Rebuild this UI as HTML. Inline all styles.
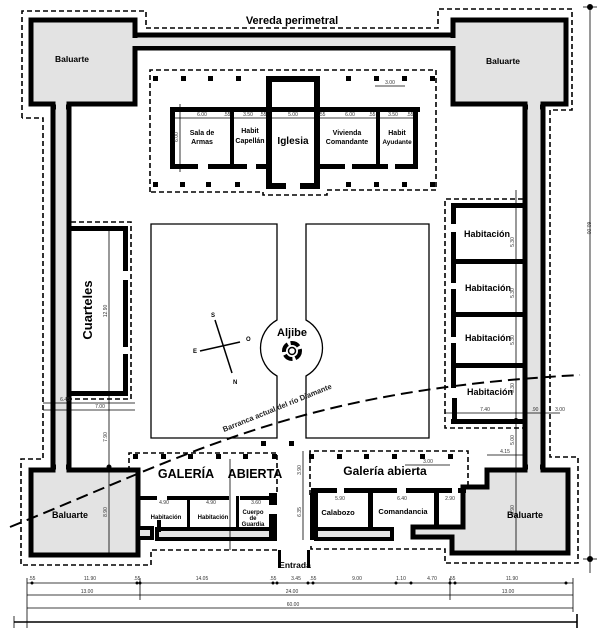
<!DOCTYPE html>
<html><head><meta charset="utf-8"><style>
html,body{margin:0;padding:0;background:#fff;}
svg{display:block;font-family:"Liberation Sans",sans-serif;}
.b{font-weight:bold;}
.s{font-size:5px;fill:#333;}
</style></head><body>
<svg width="600" height="639" viewBox="0 0 600 639" xmlns="http://www.w3.org/2000/svg">
<g fill="none" stroke="#000" stroke-width="1.6" stroke-dasharray="5,3">
<path d="M22,118 V11 H146 V28 H438 V9 H572 V110 H550 V457 H578 V563 H445 V549 H311 V544"/>
<path d="M277,550 H151 V565 H21 V459 H43 V118 H22"/>
<path d="M150,192 V70 H436 V190 H327 V195 H263 V192 H150"/>
<path d="M71,222 H131 V399 H71"/>
<path d="M523,199 H445 V428 H523"/>
<path d="M129,495 V453 H277 V495"/>
<path d="M310,495 V451 H468 V492"/>
</g>

<g fill="#e3e3e3" stroke="#000" stroke-width="5">
<rect x="130" y="35" width="330" height="13"/>
<rect x="53" y="100" width="16" height="375"/>
<rect x="525" y="100" width="18" height="375"/>
</g>
<g fill="#e3e3e3" stroke="#000" stroke-width="5" stroke-linejoin="miter">
<path d="M31,20 H135 V104 H69 V107 H53 V104 H31 Z" />
<path d="M453,20 H566 V104 H543 V107 H525 V104 H453 Z"/>
<path d="M31,470 H53 V467 H69 V470 H138 V555 H31 Z"/>
<path d="M463,527 V487 H487 V470 H525 V467 H543 V470 H568 V553 H452 V537 H413 V527 Z"/>
</g>
<g fill="#e3e3e3">
<rect x="56" y="102" width="10" height="370"/>
<rect x="528" y="102" width="12" height="370"/>
<rect x="132" y="38" width="324" height="8"/>
</g>
<g fill="#e3e3e3" stroke="#000" stroke-width="4">
<rect x="157" y="529" width="117" height="10"/>
<rect x="316" y="529" width="76" height="10"/>
<rect x="138" y="528" width="14" height="10"/>
</g>
<rect x="269" y="514" width="8" height="27" fill="#000"/>
<rect x="269" y="493" width="8" height="12" fill="#000"/>
<rect x="278" y="550" width="3" height="18" fill="#000"/>
<rect x="307" y="550" width="3" height="18" fill="#000"/>

<g fill="#000">
<rect x="170" y="107" width="250" height="5"/>
<rect x="170" y="107" width="5" height="61"/>
<rect x="230" y="107" width="4" height="61"/>
<rect x="376" y="107" width="4" height="61"/>
<rect x="413" y="107" width="5" height="61"/>
<rect x="170" y="164" width="28" height="5"/>
<rect x="208" y="164" width="39" height="5"/>
<rect x="256" y="164" width="14" height="5"/>
<rect x="316" y="164" width="29" height="5"/>
<rect x="352" y="164" width="36" height="5"/>
<rect x="395" y="164" width="23" height="5"/>
<rect x="266" y="76" width="54" height="6"/>
<rect x="266" y="76" width="6" height="112"/>
<rect x="314" y="76" width="6" height="112"/>
<rect x="266" y="183" width="20" height="6"/>
<rect x="300" y="183" width="20" height="6"/>
<g>
<rect x="153" y="76" width="5" height="5"/><rect x="181" y="76" width="5" height="5"/><rect x="208" y="76" width="5" height="5"/><rect x="236" y="76" width="5" height="5"/>
<rect x="346" y="76" width="5" height="5"/><rect x="374" y="76" width="5" height="5"/><rect x="402" y="76" width="5" height="5"/><rect x="430" y="76" width="5" height="5"/>
<rect x="153" y="182" width="5" height="5"/><rect x="180" y="182" width="5" height="5"/><rect x="206" y="182" width="5" height="5"/><rect x="235" y="182" width="5" height="5"/>
<rect x="346" y="182" width="5" height="5"/><rect x="374" y="182" width="5" height="5"/><rect x="402" y="182" width="5" height="5"/><rect x="430" y="182" width="5" height="5"/>
</g>
<rect x="70" y="226" width="58" height="5"/>
<rect x="123" y="226" width="5" height="45"/>
<rect x="123" y="280" width="5" height="67"/>
<rect x="123" y="354" width="5" height="41"/>
<rect x="70" y="391" width="58" height="5"/>
<rect x="451" y="203" width="73" height="5"/>
<rect x="451" y="259" width="73" height="5"/>
<rect x="451" y="312" width="73" height="5"/>
<rect x="451" y="363" width="73" height="5"/>
<rect x="451" y="419" width="73" height="5"/>
<rect x="451" y="203" width="5" height="21"/>
<rect x="451" y="232" width="5" height="51"/>
<rect x="451" y="289" width="5" height="48"/>
<rect x="451" y="343" width="5" height="45"/>
<rect x="452" y="398" width="5" height="25"/>
<rect x="140" y="496" width="17" height="4"/>
<rect x="167" y="496" width="62" height="4"/>
<rect x="240" y="496" width="30" height="4"/>
<rect x="187" y="496" width="3" height="33"/>
<rect x="236" y="496" width="3" height="33"/>
<rect x="157" y="520" width="4" height="12"/>
<rect x="311" y="488" width="26" height="5"/>
<rect x="344" y="488" width="53" height="5"/>
<rect x="406" y="488" width="46" height="5"/>
<rect x="458" y="488" width="8" height="5"/>
<rect x="310" y="493" width="8" height="47"/>
<rect x="368" y="488" width="5" height="40"/>
<rect x="434" y="488" width="5" height="39"/>
<rect x="133" y="454" width="5" height="5"/><rect x="161" y="454" width="5" height="5"/><rect x="188" y="454" width="5" height="5"/><rect x="216" y="454" width="5" height="5"/><rect x="243" y="454" width="5" height="5"/><rect x="272" y="454" width="5" height="5"/>
<rect x="309" y="454" width="5" height="5"/><rect x="337" y="454" width="5" height="5"/><rect x="364" y="454" width="5" height="5"/><rect x="392" y="454" width="5" height="5"/><rect x="420" y="454" width="5" height="5"/><rect x="448" y="454" width="5" height="5"/>
<rect x="261" y="441" width="5" height="5"/><rect x="289" y="441" width="5" height="5"/>
</g>

<g fill="none" stroke="#000" stroke-width="1.3">
<path d="M151,224 H277 V320 A32,32 0 0 0 277,376 V438 H151 Z"/>
<path d="M306,224 H429 V438 H306 V376 A32,32 0 0 0 306,320 Z"/>
</g>
<circle cx="292" cy="351" r="8" fill="none" stroke="#000" stroke-width="4" stroke-dasharray="9,3"/>
<circle cx="292" cy="351" r="3.5" fill="none" stroke="#000" stroke-width="1.5"/>
<text x="292" y="336" font-size="11" class="b" text-anchor="middle">Aljibe</text>
<g stroke="#000" stroke-width="1.5"><line x1="215" y1="320" x2="232" y2="373"/><line x1="200" y1="351" x2="240" y2="342"/></g>
<g font-size="6" class="b"><text x="211" y="317">S</text><text x="233" y="384">N</text><text x="193" y="353">E</text><text x="246" y="341">O</text></g>

<path d="M10,527 C200,450 300,390 580,375" fill="none" stroke="#000" stroke-width="2" stroke-dasharray="12,6"/>
<text transform="translate(224,432) rotate(-22)" font-size="7.5" class="b" fill="#222">Barranca actual del río Diamante</text>

<g stroke="#000" stroke-width="0.8" fill="none">
<line x1="172" y1="118" x2="415" y2="118"/>
<line x1="180" y1="104" x2="180" y2="172"/>
<line x1="375" y1="86" x2="405" y2="86"/>
<line x1="109" y1="226" x2="109" y2="396"/>
<line x1="109" y1="396" x2="109" y2="557"/>
<line x1="43" y1="403" x2="135" y2="403"/>
<line x1="43" y1="410" x2="135" y2="410"/>
<line x1="516" y1="190" x2="516" y2="553"/>
<line x1="445" y1="413" x2="560" y2="413"/>
<line x1="487" y1="455" x2="523" y2="455"/>
<line x1="230" y1="459" x2="230" y2="550"/>
<line x1="303" y1="451" x2="303" y2="540"/>
<line x1="405" y1="465" x2="450" y2="465"/>
<line x1="590" y1="7" x2="590" y2="573"/>
<line x1="27" y1="583" x2="573" y2="583"/>
<line x1="27" y1="595" x2="573" y2="595"/>
<line x1="27" y1="608" x2="573" y2="608"/>
<line x1="14" y1="622" x2="577" y2="622" stroke-width="1.6"/>
<line x1="27" y1="578" x2="27" y2="628"/>
<line x1="573" y1="578" x2="573" y2="612"/>
<line x1="14" y1="616" x2="14" y2="628"/>
<line x1="577" y1="614" x2="577" y2="628" stroke-width="1.6"/>
<line x1="140" y1="578" x2="140" y2="600"/>
<line x1="450" y1="578" x2="450" y2="600"/>
<line x1="583" y1="7" x2="597" y2="7"/>
<line x1="583" y1="559" x2="597" y2="559"/>
</g>
<g fill="#000">
<circle cx="109" cy="467" r="2.5"/><circle cx="109" cy="555" r="2.5"/>
<circle cx="109" cy="229" r="2"/><circle cx="109" cy="393" r="2"/>
<circle cx="590" cy="7" r="3"/><circle cx="590" cy="559" r="3"/>
<circle cx="516" cy="365" r="2"/><circle cx="516" cy="420" r="2"/>
<circle cx="32" cy="583" r="1.5"/><circle cx="137" cy="583" r="1.5"/><circle cx="140" cy="583" r="1.5"/><circle cx="273" cy="583" r="1.5"/><circle cx="277" cy="583" r="1.5"/><circle cx="308" cy="583" r="1.5"/><circle cx="313" cy="583" r="1.5"/><circle cx="396" cy="583" r="1.5"/><circle cx="411" cy="583" r="1.5"/><circle cx="450" cy="583" r="1.5"/><circle cx="455" cy="583" r="1.5"/><circle cx="566" cy="583" r="1.5"/>
</g>
<g class="s" text-anchor="middle">
<text x="202" y="116">6.00</text><text x="227" y="116">.55</text><text x="248" y="116">3.50</text><text x="263" y="116">.55</text><text x="293" y="116">5.00</text><text x="322" y="116">.55</text><text x="350" y="116">6.00</text><text x="372" y="116">.55</text><text x="393" y="116">3.50</text><text x="410" y="116">.55</text>
<text x="390" y="84">3.00</text><text x="428" y="463">3.00</text><text x="505" y="453">4.15</text>
<text x="32" y="580">.55</text><text x="90" y="580">11.90</text><text x="137" y="580">.55</text><text x="202" y="580">14.05</text><text x="273" y="580">.55</text><text x="296" y="580">3.45</text><text x="313" y="580">.55</text><text x="357" y="580">9.00</text><text x="401" y="580">1.10</text><text x="432" y="580">4.70</text><text x="452" y="580">.55</text><text x="512" y="580">11.90</text>
<text x="87" y="593">13.00</text><text x="292" y="593">24.00</text><text x="508" y="593">13.00</text><text x="293" y="606">60.00</text>
<text x="65" y="401">6.45</text><text x="100" y="408">7.00</text><text x="485" y="411">7.40</text><text x="535" y="411">.90</text><text x="560" y="411">3.00</text>
<text x="164" y="504">4.90</text><text x="211" y="504">4.90</text><text x="256" y="504">3.60</text>
<text x="340" y="500">5.90</text><text x="402" y="500">6.40</text><text x="450" y="500">2.90</text>
<text transform="translate(587,228) rotate(90)">60.00</text>
<text transform="translate(107,311) rotate(-90)">12.90</text>
<text transform="translate(107,437) rotate(-90)">7.90</text>
<text transform="translate(107,512) rotate(-90)">8.90</text>
<text transform="translate(514,242) rotate(-90)">5.30</text>
<text transform="translate(514,293) rotate(-90)">5.30</text>
<text transform="translate(514,340) rotate(-90)">5.30</text>
<text transform="translate(514,388) rotate(-90)">5.30</text>
<text transform="translate(514,440) rotate(-90)">5.00</text>
<text transform="translate(514,510) rotate(-90)">8.90</text>
<text transform="translate(301,470) rotate(-90)">3.90</text>
<text transform="translate(301,512) rotate(-90)">6.35</text>
<text transform="translate(178,137) rotate(-90)">6.00</text>
</g>

<g class="b" text-anchor="middle">
<text x="292" y="24" font-size="11">Vereda perimetral</text>
<text x="72" y="62" font-size="8.5">Baluarte</text>
<text x="503" y="64" font-size="8.5">Baluarte</text>
<text x="70" y="518" font-size="9">Baluarte</text>
<text x="525" y="518" font-size="9">Baluarte</text>
<g font-size="7"><text x="202" y="135">Sala de</text><text x="202" y="144">Armas</text>
<text x="250" y="133">Habit</text><text x="250" y="143">Capellán</text>
<text x="347" y="135">Vivienda</text><text x="347" y="144">Comandante</text>
<text x="397" y="135">Habit</text><text x="397" y="144" font-size="6.5">Ayudante</text></g>
<text x="293" y="144" font-size="10">Iglesia</text>
<text transform="translate(92,310) rotate(-90)" font-size="13">Cuarteles</text>
<g font-size="9"><text x="487" y="237">Habitación</text><text x="488" y="291">Habitación</text><text x="488" y="341">Habitación</text><text x="490" y="395">Habitación</text></g>
<text x="186" y="478" font-size="12.5">GALERÍA</text>
<text x="255" y="478" font-size="12.5">ABIERTA</text>
<text x="385" y="475" font-size="12">Galería abierta</text>
<g font-size="6"><text x="166" y="519">Habitación</text><text x="213" y="519">Habitación</text>
<text x="253" y="514">Cuerpo</text><text x="253" y="520">de</text><text x="253" y="526">Guardia</text></g>
<text x="338" y="515" font-size="7.5">Calabozo</text>
<text x="403" y="514" font-size="7.5">Comandancia</text>
<text x="295" y="568" font-size="8.5">Entrada</text>
</g>
</svg>
</body></html>
